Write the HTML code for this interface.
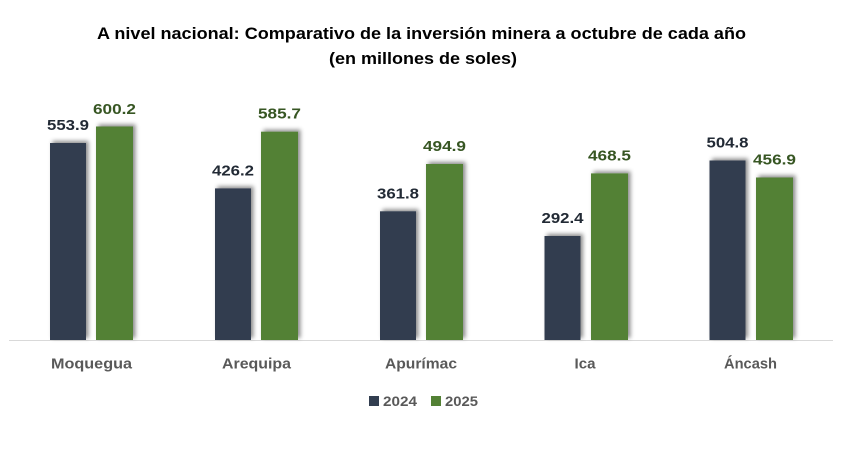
<!DOCTYPE html>
<html><head><meta charset="utf-8"><style>
html,body{margin:0;padding:0;background:#fff;}
svg{display:block;}
text{font-family:"Liberation Sans",sans-serif;font-weight:bold;}
</style></head><body>
<svg width="843" height="458" viewBox="0 0 843 458" xmlns="http://www.w3.org/2000/svg">
<defs>
<filter id="sh" x="-30%" y="-10%" width="160%" height="120%">
<feDropShadow dx="2.5" dy="-2" stdDeviation="2.2" flood-color="#000" flood-opacity="0.45"/>
</filter>
</defs>
<rect width="843" height="458" fill="#fff"/>
<text x="421.5" y="39" font-size="17" fill="#000" text-anchor="middle" textLength="649" lengthAdjust="spacingAndGlyphs">A nivel nacional: Comparativo de la inversión minera a octubre de cada año</text>
<text x="423" y="64" font-size="17" fill="#000" text-anchor="middle" textLength="188" lengthAdjust="spacingAndGlyphs">(en millones de soles)</text>

<line x1="9" y1="340.5" x2="833" y2="340.5" stroke="#d9d9d9" stroke-width="1"/>

<g filter="url(#sh)">
<rect x="50" y="143" width="36" height="197" fill="#323e50"/>
<rect x="96" y="126.5" width="37" height="213.5" fill="#538135"/>
<rect x="215" y="188.4" width="36" height="151.6" fill="#323e50"/>
<rect x="261" y="131.7" width="37" height="208.3" fill="#538135"/>
<rect x="380" y="211.3" width="36" height="128.7" fill="#323e50"/>
<rect x="426" y="164" width="37" height="176" fill="#538135"/>
<rect x="544.5" y="236" width="36" height="104" fill="#323e50"/>
<rect x="591" y="173.4" width="37" height="166.6" fill="#538135"/>
<rect x="709.5" y="160.5" width="36" height="179.5" fill="#323e50"/>
<rect x="756" y="177.5" width="37" height="162.5" fill="#538135"/>
</g>

<g font-size="15" text-anchor="middle">
<text x="68" y="130" fill="#222a35" textLength="42" lengthAdjust="spacingAndGlyphs">553.9</text>
<text x="114.5" y="114" fill="#375623" textLength="43" lengthAdjust="spacingAndGlyphs">600.2</text>
<text x="233" y="175.4" fill="#222a35" textLength="42" lengthAdjust="spacingAndGlyphs">426.2</text>
<text x="279.5" y="118.7" fill="#375623" textLength="43" lengthAdjust="spacingAndGlyphs">585.7</text>
<text x="398" y="198.3" fill="#222a35" textLength="42" lengthAdjust="spacingAndGlyphs">361.8</text>
<text x="444.5" y="151" fill="#375623" textLength="43" lengthAdjust="spacingAndGlyphs">494.9</text>
<text x="562.5" y="223" fill="#222a35" textLength="42" lengthAdjust="spacingAndGlyphs">292.4</text>
<text x="609.5" y="160.4" fill="#375623" textLength="43" lengthAdjust="spacingAndGlyphs">468.5</text>
<text x="727.5" y="147.5" fill="#222a35" textLength="42" lengthAdjust="spacingAndGlyphs">504.8</text>
<text x="774.5" y="164.5" fill="#375623" textLength="43" lengthAdjust="spacingAndGlyphs">456.9</text>
</g>

<g font-size="15" fill="#595959" text-anchor="middle">
<text x="91.5" y="368.5" textLength="81" lengthAdjust="spacingAndGlyphs">Moquegua</text>
<text x="256.5" y="368.5" textLength="69" lengthAdjust="spacingAndGlyphs">Arequipa</text>
<text x="421" y="368.5" textLength="72" lengthAdjust="spacingAndGlyphs">Apurímac</text>
<text x="585" y="368.5" textLength="21" lengthAdjust="spacingAndGlyphs">Ica</text>
<text x="750.5" y="368.5" textLength="53" lengthAdjust="spacingAndGlyphs">Áncash</text>
</g>

<rect x="369" y="396" width="10" height="10" fill="#323e50"/>
<text x="383" y="406" font-size="14" fill="#595959" textLength="34" lengthAdjust="spacingAndGlyphs">2024</text>
<rect x="431" y="396" width="10" height="10" fill="#538135"/>
<text x="445" y="406" font-size="14" fill="#595959" textLength="33" lengthAdjust="spacingAndGlyphs">2025</text>
</svg>
</body></html>
